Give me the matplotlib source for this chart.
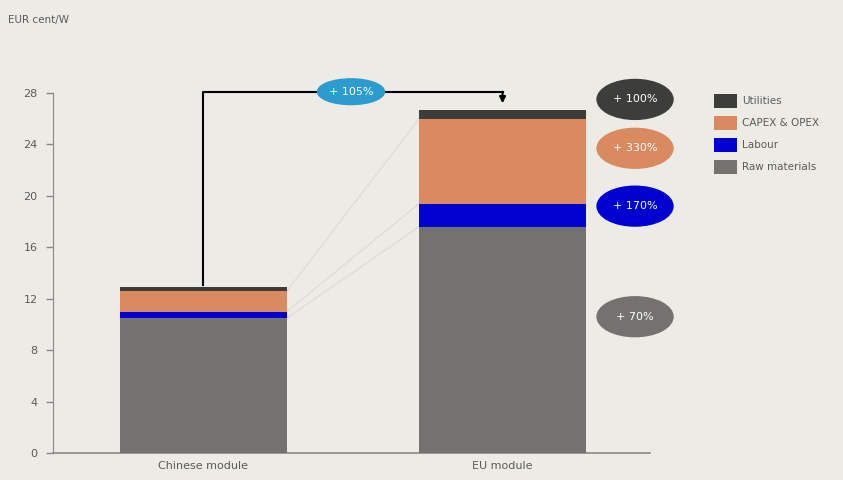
import matplotlib
matplotlib.use("Agg")
import matplotlib.pyplot as plt
from matplotlib.patches import Ellipse, Patch
import numpy as np

categories = ["Chinese module", "EU module"]
series_names = ["Raw materials", "Labour", "CAPEX & OPEX", "Utilities"]
raw_materials = [10.5, 17.6]
labour = [0.5, 1.8]
capex_opex = [1.6, 6.6]
utilities = [0.3, 0.7]
increase_labels = ["+ 70%", "+ 170%", "+ 330%", "+ 100%"]
total_increase_label = "+ 105%"
yticks = [0, 4, 8, 12, 16, 20, 24, 28]

colors = ["#73726e", "#0000d0", "#d98a5e", "#3d3d39"]
bg = "#ecebe6"
txt = "#5a5a5a"

fig = plt.figure(figsize=(8.43, 4.8), dpi=100, facecolor=bg)
ax = fig.add_axes([53/843, 1-453/480, (650-53)/843, (453-93)/480], facecolor=bg)

x = np.arange(len(categories))
width = 0.558
series = [raw_materials, labour, capex_opex, utilities]
bottom = np.zeros(len(categories))
bounds = []
for vals, c in zip(series, colors):
    ax.bar(x, vals, width, bottom=bottom, color=c, edgecolor="none", zorder=3)
    bottom = bottom + np.array(vals)
    bounds.append(bottom.copy())

# faint connecting lines
for b in bounds[:3]:
    ax.plot([x[0] + width/2, x[1] - width/2], [b[0], b[1]], color="#dfded8", lw=1.0, zorder=1)

ax.set_xlim(-0.503, 1.493)
ax.set_ylim(0, 28)
ax.set_yticks(yticks)
ax.set_yticklabels([str(t) for t in yticks], fontsize=8, color=txt)
ax.set_xticks(x)
ax.set_xticklabels(categories, fontsize=8, color=txt)
ax.tick_params(axis="x", length=0, pad=6)
ax.tick_params(axis="y", length=5, width=1, color="#888888", pad=6)
for s in ["top", "right"]:
    ax.spines[s].set_visible(False)
ax.spines["left"].set_color("#888888")
ax.spines["bottom"].set_color("#888888")
ax.spines["bottom"].set_linewidth(1.2)

# increase ellipses
ex = 1.443
ell_y = [10.6, 19.2, 23.7, 27.5]
for lab, ey, c in zip(increase_labels, ell_y, colors):
    ax.add_patch(Ellipse((ex, ey), 0.254, 3.1, color=c, clip_on=False, zorder=5))
    ax.text(ex, ey, lab, ha="center", va="center", fontsize=8, color="white", zorder=6, clip_on=False)

# total arrow
tot = bounds[-1]
y_line = 28.1
ax.plot([x[0], x[0], x[1]], [tot[0] + 0.2, y_line, y_line], color="black", lw=1.5, clip_on=False, zorder=4)
ax.annotate("", xy=(x[1], tot[1] + 0.5), xytext=(x[1], y_line),
            arrowprops=dict(arrowstyle="-|>", color="black", lw=1.5, mutation_scale=9, shrinkA=0, shrinkB=0),
            annotation_clip=False, zorder=4)
bx = (351 - 203.5) / 299
ax.add_patch(Ellipse((bx, y_line), 0.224, 2.0, color="#2b9bd0", clip_on=False, zorder=5))
ax.text(bx, y_line, total_increase_label, ha="center", va="center", fontsize=8, color="white", zorder=6, clip_on=False)

# legend
handles = [Patch(facecolor=colors[i], edgecolor="none", label=series_names[i]) for i in [3, 2, 1, 0]]
leg = fig.legend(handles=handles, loc="upper left", bbox_to_anchor=(714/843, 1-94/480),
                 frameon=False, fontsize=7.5, handlelength=2.2, handleheight=1.7,
                 handletextpad=0.5, labelspacing=0.75, borderaxespad=0, borderpad=0)
for t in leg.get_texts():
    t.set_color(txt)

fig.text(8/843, 1-20/480, "EUR cent/W", fontsize=7.5, color=txt, ha="left", va="center")

fig.savefig("out.png", dpi=100, facecolor=bg)
